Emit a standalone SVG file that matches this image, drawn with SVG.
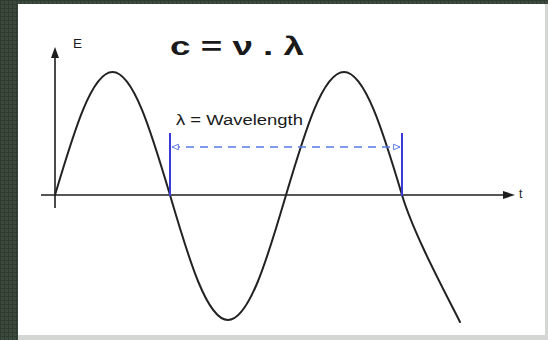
<svg xmlns="http://www.w3.org/2000/svg" width="548" height="340" viewBox="0 0 548 340">
  <style>
    .axis { stroke: #1e1e1e; stroke-width: 1.6; fill: none; }
    .wave { stroke: #222; stroke-width: 2; fill: none; stroke-linecap: round; }
    .blue { stroke: #3a3ad8; stroke-width: 2; fill: none; }
    .dash { stroke: #5a78e8; stroke-width: 1.4; fill: none; stroke-dasharray: 8 6; }
    .lbl { font-family: "Liberation Sans", Arial, sans-serif; fill: #1a1a1a; }
  </style>
  <defs>
    <pattern id="grid" width="4" height="4" patternUnits="userSpaceOnUse">
      <rect width="4" height="4" fill="#3c4a3d"/>
      <path d="M0 0.5H4M0.5 0V4" stroke="#2f3b30" stroke-width="1"/>
    </pattern>
    <marker id="openArrow" viewBox="0 0 10 10" refX="9" refY="5" markerWidth="8" markerHeight="8" markerUnits="userSpaceOnUse" orient="auto-start-reverse">
      <path d="M1,1.5 L9,5 L1,8.5 Z" fill="#ffffff" stroke="#5a78e8" stroke-width="1.2"/>
    </marker>
  </defs>

  <g id="background">
    <rect width="548" height="340" fill="url(#grid)"/>
    <rect x="18" y="4" width="530" height="336" fill="#d4d6d4"/>
    <rect x="18" y="4" width="527" height="331" fill="#ffffff"/>
  </g>

  <g id="axes">
    <line class="axis" x1="55" y1="208" x2="55" y2="56"/>
    <path d="M55,47 L59,58 L51,58 Z" fill="#1e1e1e"/>
    <line class="axis" x1="41" y1="195" x2="505" y2="195"/>
    <path d="M515,195 L503,191 L503,199 Z" fill="#1e1e1e"/>
    <text class="lbl" x="73" y="48" font-size="12" textLength="9" lengthAdjust="spacingAndGlyphs">E</text>
    <text class="lbl" x="519" y="198" font-size="12">t</text>
  </g>

  <g id="wave">
    <path class="wave" d="M55,195 C73.8,132 91.7,72 112.5,72 C133.3,72 151.25,132 170,195 C188.75,259 207,320 228,320 C249,320 267.25,259 286,195 C304.75,132 322.7,72 344,72 C364.8,72 383.25,132 402,195 C414,235 446,294 460,322"/>
  </g>

  <g id="connectors">
    <line class="blue" x1="170" y1="133" x2="170" y2="196"/>
    <line class="blue" x1="402" y1="133" x2="402" y2="196"/>
    <line class="dash" x1="172" y1="147" x2="400" y2="147" marker-start="url(#openArrow)" marker-end="url(#openArrow)"/>
  </g>

  <g id="wavelength-label">
    <text class="lbl" x="176" y="125" font-size="14" textLength="127" lengthAdjust="spacingAndGlyphs">λ = Wavelength</text>
  </g>

  <g id="title">
    <text class="lbl" x="170" y="55" font-size="26" font-weight="bold" textLength="134" lengthAdjust="spacingAndGlyphs">c = ν . λ</text>
  </g>
</svg>
